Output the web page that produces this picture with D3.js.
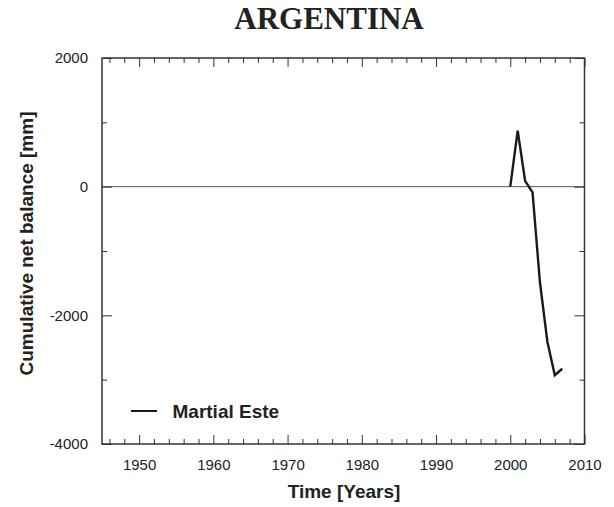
<!DOCTYPE html>
<html><head><meta charset="utf-8">
<script src="https://cdn.jsdelivr.net/npm/d3@7"></script>
<style>body{margin:0;background:#fff}svg{display:block}</style>
</head><body>
<script>
const title = "ARGENTINA";
const seriesName = "Martial Este";
const years = [2000, 2001, 2002, 2003, 2004, 2005, 2006, 2007];
const balance = [0, 870, 90, -90, -1490, -2410, -2930, -2830];
const xMajorTicks = [1950, 1960, 1970, 1980, 1990, 2000, 2010];
const yMajorTicks = [-4000, -2000, 0, 2000];
const xLabel = "Time [Years]";
const yLabel = "Cumulative net balance [mm]";

const W = 614, H = 507;
const m = {left: 102, right: 614 - 584.5, top: 58, bottom: 507 - 444};
const svg = d3.select("body").append("svg").attr("width", W).attr("height", H);
const x = d3.scaleLinear().domain([1945, 2010]).range([m.left, W - m.right]);
const y = d3.scaleLinear().domain([-4000, 2000]).range([H - m.bottom, m.top]);
const axisColor = "#333";
const sans = "Liberation Sans, Arial, sans-serif";

// zero line
svg.append("line").attr("x1", x(1945)).attr("x2", x(2010)).attr("y1", y(0)).attr("y2", y(0))
  .attr("stroke", "#555").attr("stroke-width", 1);

const minorX = d3.range(1946, 2010, 2).filter(v => v % 10 !== 0);
const minorY = [-3000, -1000, 1000];
const fmt = d => String(d);

function styleAxis(g){
  g.select(".domain").remove();
  g.selectAll(".tick line").attr("stroke", axisColor).attr("stroke-width", 1);
  g.selectAll("text").attr("font-family", sans).attr("font-size", 15).attr("fill", "#222");
}
// bottom
svg.append("g").attr("transform", `translate(0,${y(-4000)})`)
  .call(d3.axisBottom(x).tickValues(xMajorTicks).tickFormat(fmt).tickSizeInner(-9).tickSizeOuter(0).tickPadding(15))
  .call(styleAxis);
svg.append("g").attr("transform", `translate(0,${y(-4000)})`)
  .call(d3.axisBottom(x).tickValues(minorX).tickFormat("").tickSizeInner(-5).tickSizeOuter(0)).call(styleAxis);
// top
svg.append("g").attr("transform", `translate(0,${y(2000)})`)
  .call(d3.axisTop(x).tickValues(xMajorTicks).tickFormat("").tickSizeInner(-9).tickSizeOuter(0)).call(styleAxis);
svg.append("g").attr("transform", `translate(0,${y(2000)})`)
  .call(d3.axisTop(x).tickValues(minorX).tickFormat("").tickSizeInner(-5).tickSizeOuter(0)).call(styleAxis);
// left
svg.append("g").attr("transform", `translate(${x(1945)},0)`)
  .call(d3.axisLeft(y).tickValues(yMajorTicks).tickFormat(fmt).tickSizeInner(-10).tickSizeOuter(0).tickPadding(14))
  .call(styleAxis);
svg.append("g").attr("transform", `translate(${x(1945)},0)`)
  .call(d3.axisLeft(y).tickValues(minorY).tickFormat("").tickSizeInner(-5).tickSizeOuter(0)).call(styleAxis);
// right
svg.append("g").attr("transform", `translate(${x(2010)},0)`)
  .call(d3.axisRight(y).tickValues(yMajorTicks).tickFormat("").tickSizeInner(-10).tickSizeOuter(0)).call(styleAxis);
svg.append("g").attr("transform", `translate(${x(2010)},0)`)
  .call(d3.axisRight(y).tickValues(minorY).tickFormat("").tickSizeInner(-5).tickSizeOuter(0)).call(styleAxis);

// frame
svg.append("rect").attr("x", x(1945)).attr("y", y(2000))
  .attr("width", x(2010) - x(1945)).attr("height", y(-4000) - y(2000))
  .attr("fill", "none").attr("stroke", axisColor).attr("stroke-width", 1.5);

// data line
const data = years.map((yr, i) => ({yr, v: balance[i]}));
svg.append("path").datum(data)
  .attr("d", d3.line().x(d => x(d.yr)).y(d => y(d.v)))
  .attr("fill", "none").attr("stroke", "#1a1a1a").attr("stroke-width", 2.4).attr("stroke-linejoin", "miter");

// legend
svg.append("line").attr("x1", 131).attr("x2", 157).attr("y1", 411).attr("y2", 411)
  .attr("stroke", "#1a1a1a").attr("stroke-width", 2);
svg.append("text").attr("x", 172.5).attr("y", 417.5).text(seriesName)
  .attr("font-family", sans).attr("font-weight", "bold").attr("font-size", 19).attr("fill", "#222");

// title
svg.append("text").attr("x", 329).attr("y", 28.5).attr("text-anchor", "middle").text(title)
  .attr("font-family", "Liberation Serif, Times New Roman, serif").attr("font-weight", "bold").attr("font-size", 31).attr("fill", "#222");

// axis labels
svg.append("text").attr("x", 344).attr("y", 498).attr("text-anchor", "middle").text(xLabel)
  .attr("font-family", sans).attr("font-weight", "bold").attr("font-size", 19).attr("fill", "#222");
svg.append("text").attr("transform", `translate(32.5,${243.5}) rotate(-90)`).attr("text-anchor", "middle").text(yLabel)
  .attr("font-family", sans).attr("font-weight", "bold").attr("font-size", 19).attr("fill", "#222");
</script>
</body></html>
